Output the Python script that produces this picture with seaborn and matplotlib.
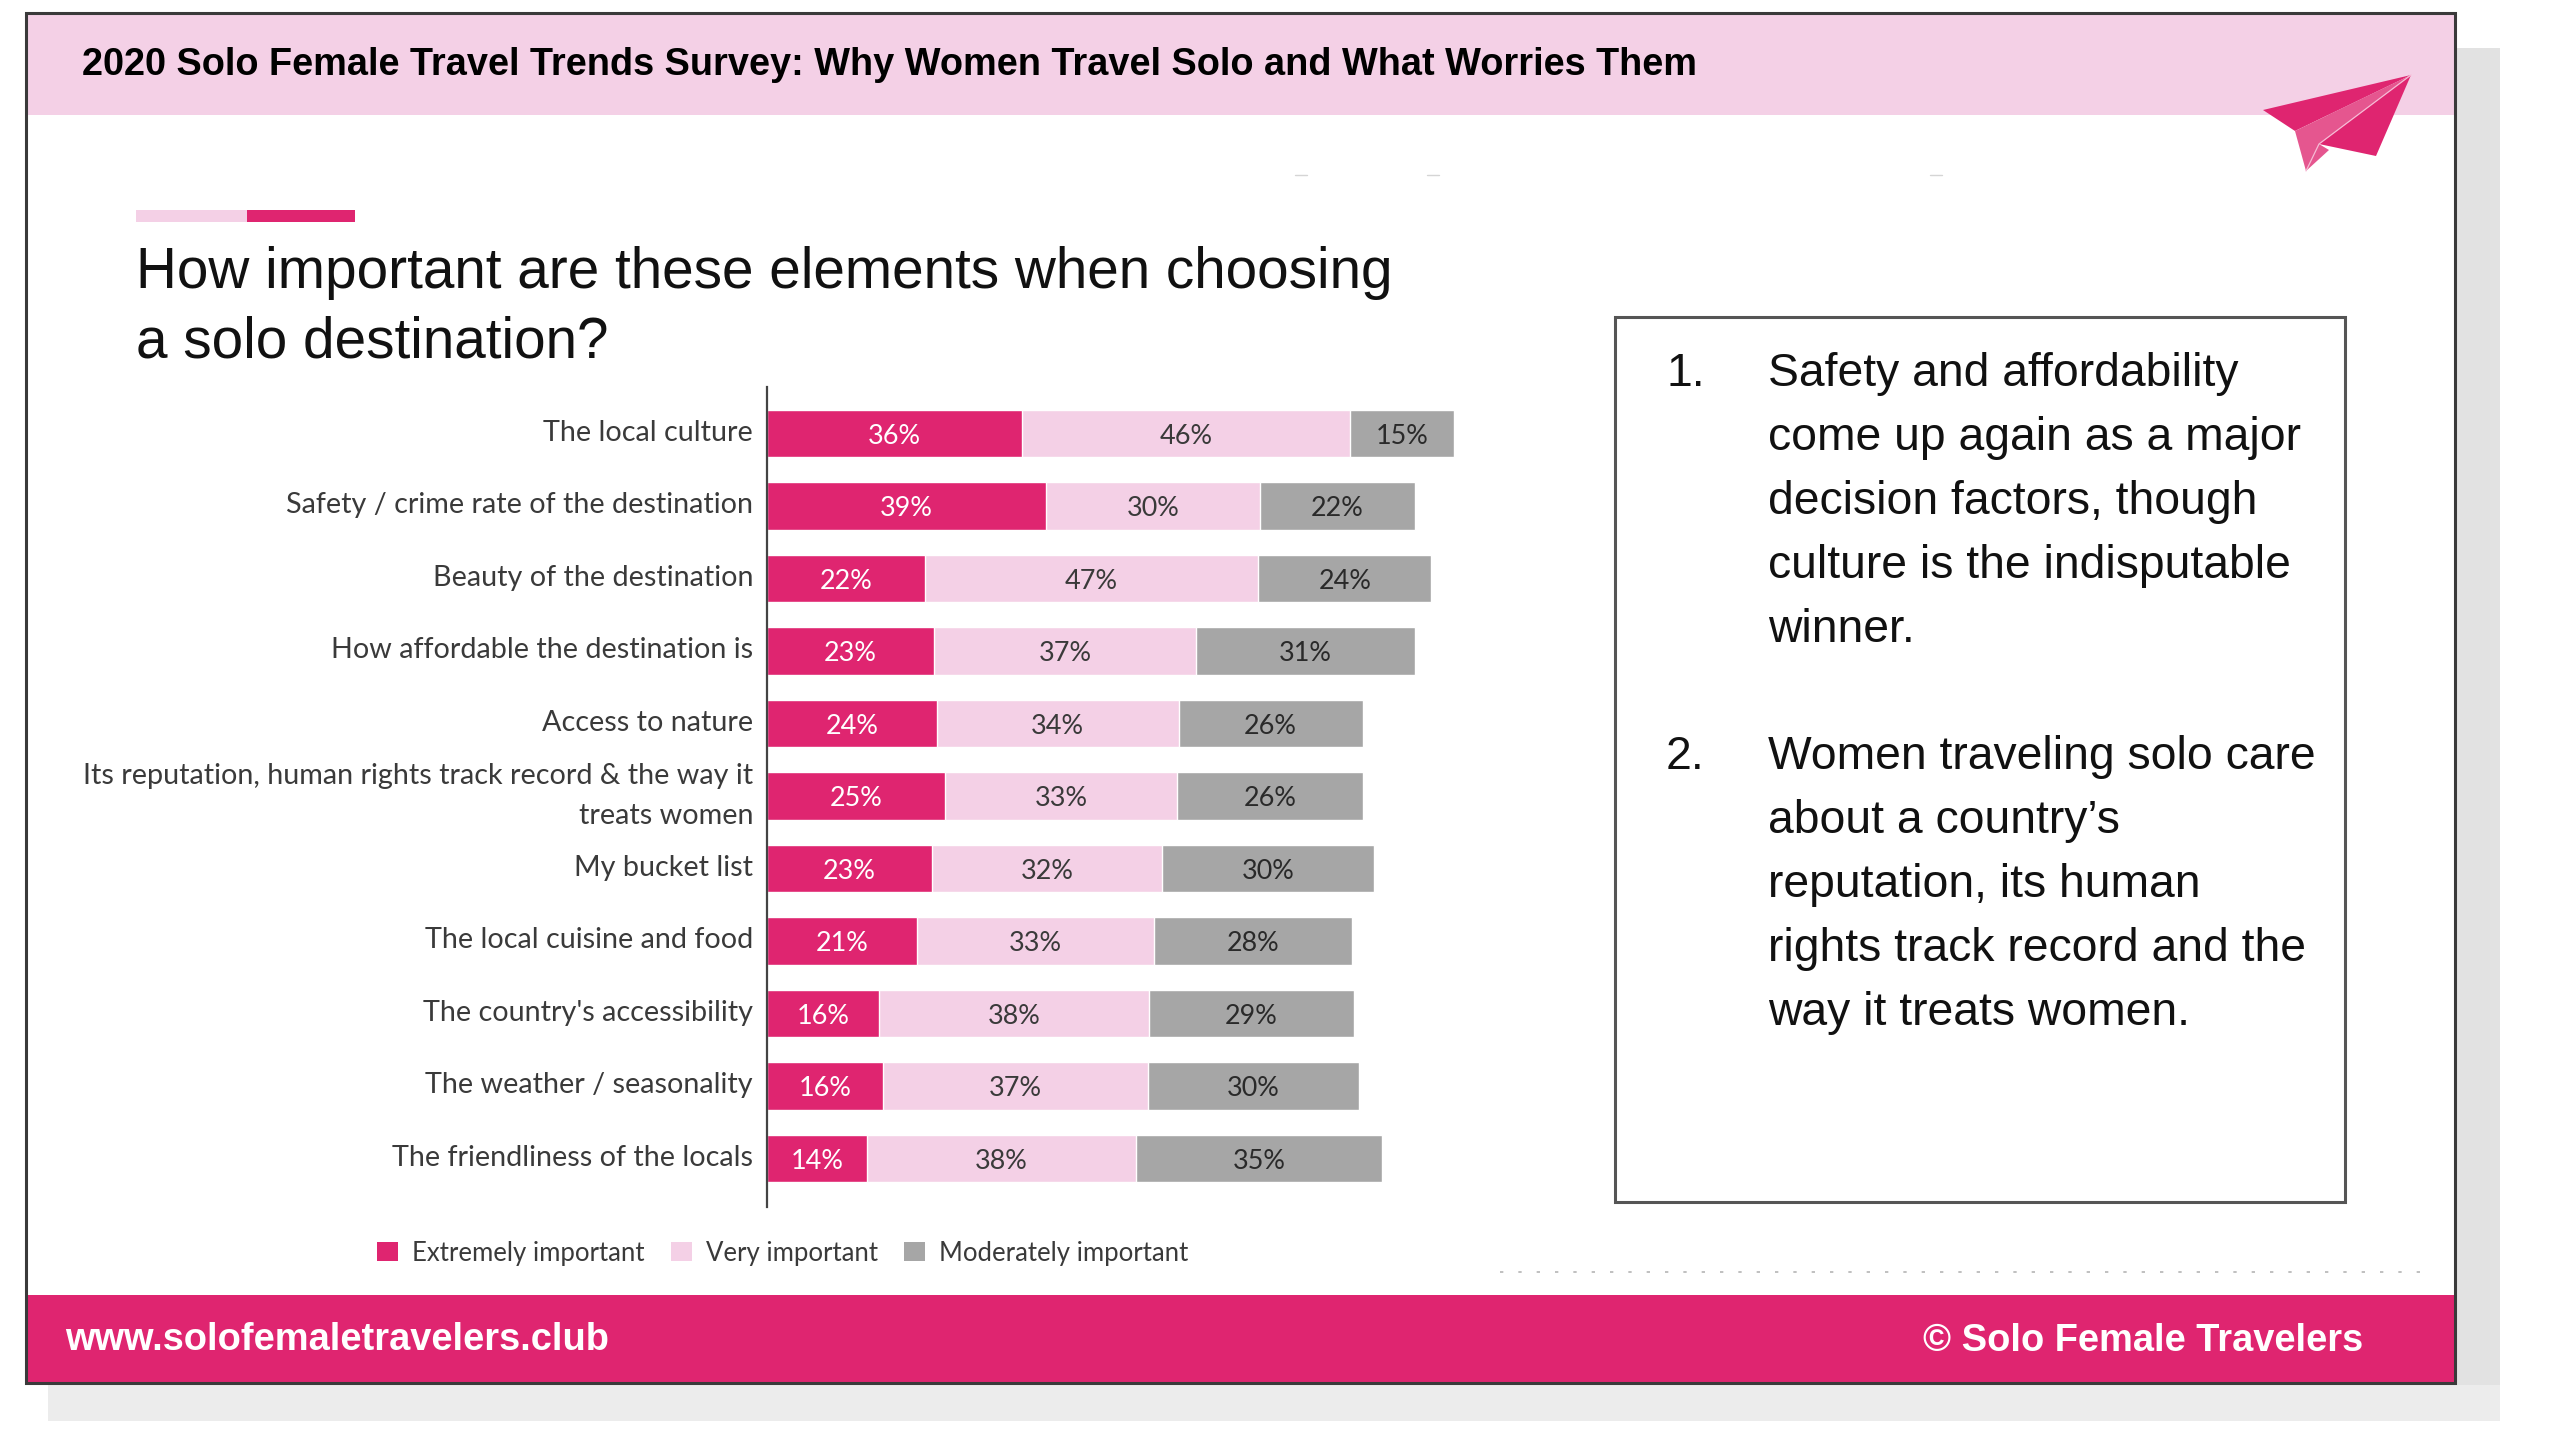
import matplotlib
matplotlib.use("Agg")
import matplotlib.pyplot as plt
from matplotlib.patches import Patch, Polygon, Rectangle
from matplotlib.transforms import ScaledTranslation
import numpy as np
import pandas as pd
import seaborn as sns

categories = [
    "The local culture",
    "Safety / crime rate of the destination",
    "Beauty of the destination",
    "How affordable the destination is",
    "Access to nature",
    "Its reputation, human rights track record & the way it\ntreats women",
    "My bucket list",
    "The local cuisine and food",
    "The country's accessibility",
    "The weather / seasonality",
    "The friendliness of the locals",
]
# labels in the picture are rounded, the bar lengths carry a bit more
extremely = [35.8, 39.2, 22.2, 23.4, 23.9, 25.0, 23.2, 21.1, 15.8, 16.3, 14.0]
very = [46.1, 30.0, 46.8, 36.9, 33.9, 32.6, 32.3, 33.3, 37.8, 37.2, 37.8]
moderately = [14.6, 21.8, 24.3, 30.7, 25.9, 26.1, 29.8, 27.8, 28.9, 29.6, 34.6]
series_names = ["Extremely important", "Very important", "Moderately important"]

header = "2020 Solo Female Travel Trends Survey: Why Women Travel Solo and What Worries Them"
question = ["How important are these elements when choosing", "a solo destination?"]
note_one = [
    "Safety and affordability",
    "come up again as a major",
    "decision factors, though",
    "culture is the indisputable",
    "winner.",
]
note_two = [
    "Women traveling solo care",
    "about a country\u2019s",
    "reputation, its human",
    "rights track record and the",
    "way it treats women.",
]

PINK = "#DF2570"
LIGHT = "#F4D0E6"
GREY = "#A6A6A6"
W, H = 2560, 1440

sns.set_theme(style="white")
plt.rcParams["font.family"] = ["Liberation Sans", "DejaVu Sans"]


def px(size):
    # text size in figure pixels -> points at dpi 100
    return size * 72 / 100


fig = plt.figure(figsize=(25.6, 14.4), dpi=100, facecolor="white")

# page furniture, in pixel coordinates
bg = fig.add_axes([0, 0, 1, 1])
bg.set_xlim(0, W)
bg.set_ylim(H, 0)
bg.axis("off")


def box(x0, y0, x1, y1, color, **kws):
    bg.add_patch(Rectangle((x0, y0), x1 - x0, y1 - y0, facecolor=color, edgecolor="none", **kws))


box(48, 48, 2500, 1421, "#ECECEC")
box(2455, 48, 2500, 1385, "#E2E2E2")
box(26, 14, 2455, 1383, "white")
box(27, 15, 2454, 115, LIGHT)
box(27, 1295, 2454, 1383, PINK)
bg.add_patch(Rectangle((26, 13), 2429, 1370, fill=False, edgecolor="#3A3A3A", linewidth=2.2))

box(136, 210, 247, 222, LIGHT)
box(247, 210, 355, 222, PINK)

bg.text(82, 65, header, fontsize=px(37.95), fontweight="bold", color="black", va="center")
for i, line in enumerate(question):
    bg.text(136, 273 + i * 69, line, fontsize=px(56.8), color="#111111", va="center")

bg.text(65, 1340, "www.solofemaletravelers.club", fontsize=px(38), fontweight="bold", color="white", va="center")
bg.text(2363, 1341, "\u00a9 Solo Female Travelers", fontsize=px(38), fontweight="bold", color="white", va="center", ha="right")

# unreadable source line and stray specks left over in the screenshot
bg.plot([1500, 2420], [1272, 1272], color="#B5B5B5", linewidth=1.2, linestyle=(0, (2, 9)))
for x in [1301, 1433, 1936]:
    bg.plot([x - 6, x + 6], [175, 175], color="#D5D5D5", linewidth=1)

# paper plane
bg.add_patch(Polygon([(2411, 75), (2263, 110), (2295, 131)], facecolor=PINK, edgecolor="none"))
bg.add_patch(Polygon([(2411, 75), (2295, 131), (2306, 171), (2329, 150), (2319, 144)], facecolor="#E5568F", edgecolor="none"))
bg.add_patch(Polygon([(2411, 75), (2319, 144), (2376, 156)], facecolor=PINK, edgecolor="none"))
bg.plot([2411, 2319, 2306], [75, 144, 171], color="#F6BBD5", linewidth=0.9)

# notes panel
bg.add_patch(Rectangle((1615, 317), 730, 885, facecolor="white", edgecolor="#555555", linewidth=2.2))
for number, lines, top in [("1.", note_one, 374), ("2.", note_two, 757)]:
    bg.text(1666, top, number, fontsize=px(46.3), color="#111111", va="center")
    for i, line in enumerate(lines):
        bg.text(1768, top + i * 64, line, fontsize=px(46.3), color="#111111", va="center")

# chart
ax = fig.add_axes([767 / W, 1 - 1207 / H, 712 / W, 820 / H], facecolor="none")
df = pd.DataFrame({"category": categories, "a": extremely, "b": very, "c": moderately})
df["ab"] = df["a"] + df["b"]
df["abc"] = df["ab"] + df["c"]

# stacked look: longest totals first, shorter ones over them
for col, color in [("abc", GREY), ("ab", LIGHT), ("a", PINK)]:
    sns.barplot(data=df, y="category", x=col, color=color, width=0.66, saturation=1, orient="h", ax=ax, zorder=2)

ax.set_xlim(0, 100)
ax.set_ylim(10.669, -0.641)
ax.set_xlabel("")
ax.set_ylabel("")
ax.set_xticks([])
sns.despine(ax=ax, left=False, bottom=True)
ax.spines["left"].set_color("#444444")
ax.spines["left"].set_linewidth(1.6)
ax.tick_params(axis="y", length=0, pad=10)
for label in ax.get_yticklabels():
    label.set_fontfamily("Lato")
    label.set_fontsize(px(28.7))
    label.set_color("#3A3A3A")
    label.set_multialignment("right")
    label.set_linespacing(1.65)
    # the wrapped label sits higher than the one-liners
    up = 9 if "\n" in label.get_text() else 3
    label.set_transform(label.get_transform() + ScaledTranslation(0, up / 100, fig.dpi_scale_trans))

for i, (a, b, c) in enumerate(zip(extremely, very, moderately)):
    ax.text(a / 2, i + 0.035, f"{a:.0f}%", ha="center", va="center", color="white", fontsize=px(27), family="Lato")
    ax.text(a + b / 2, i + 0.035, f"{b:.0f}%", ha="center", va="center", color="#3A3A3A", fontsize=px(27), family="Lato")
    ax.text(a + b + c / 2, i + 0.035, f"{c:.0f}%", ha="center", va="center", color="#2A2A2A", fontsize=px(27), family="Lato")

handles = [Patch(facecolor=c, edgecolor="none") for c in (PINK, LIGHT, GREY)]
fig.legend(
    handles,
    series_names,
    ncol=3,
    loc="center left",
    bbox_to_anchor=(354 / W, 1 - 1253 / H),
    frameon=False,
    prop={"family": "Lato", "size": px(25.7)},
    labelcolor="#3A3A3A",
    handlelength=0.8,
    handleheight=0.8,
    handletextpad=0.55,
    columnspacing=1.04,
)

fig.savefig("out.png", dpi=100)
